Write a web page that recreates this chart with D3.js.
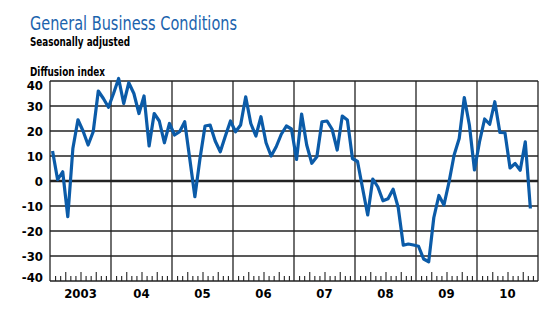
<!DOCTYPE html>
<html>
<head>
<meta charset="utf-8">
<script src="https://cdn.jsdelivr.net/npm/d3@7"></script>
<style>
  body { margin: 0; background: #fff; }
  text { font-family: "Liberation Sans Narrow", "Arial Narrow", "DejaVu Sans Condensed", sans-serif; }
</style>
</head>
<body>
<div id="chart"></div>
<script>
// monthly values, Jan 2003 .. Nov 2010
const values2003 = [12, 0.5, 3.7, -14.3, 13, 24.5, 20, 14.4, 19.7, 36, 33, 29.5];
const values2004 = [35, 41, 31, 39.3, 35, 27, 34, 14, 27, 24, 15.3, 23];
const values2005 = [18.4, 19.7, 23.7, 8.8, -6.3, 8.9, 22, 22.4, 16, 11.7, 18, 24];
const values2006 = [19.7, 22.4, 33.7, 23, 18, 25.7, 15.3, 10, 13.7, 18.7, 22, 20.8];
const values2007 = [8.6, 26.8, 14.4, 7.1, 9.7, 23.7, 24, 20.7, 12.4, 26, 24.4, 9];
const values2008 = [7.8, -3, -13.6, 0.8, -2.4, -7.9, -7.1, -3.3, -10.6, -25.7, -25.2, -25.6];
const values2009 = [-26.1, -31.2, -32.3, -14.7, -5.8, -9.6, -0.4, 10.4, 17, 33.4, 22.4, 4.4];
const values2010 = [15.7, 24.8, 22.7, 31.7, 19.4, 19.3, 5.2, 7, 4.3, 15.7, -11];
const yearLabels = ['2003', '04', '05', '06', '07', '08', '09', '10'];
const yTicks = [-40, -30, -20, -10, 0, 10, 20, 30, 40];

const data = [].concat(values2003, values2004, values2005, values2006,
  values2007, values2008, values2009, values2010)
  .map((v, i) => ({m: i + 0.5, v}));

const width = 558;
const height = 321;
const margin = {top: 81, right: 20, bottom: 40, left: 50};
const nMonths = yearLabels.length * 12;

const svg = d3.select('#chart').append('svg')
  .attr('width', width)
  .attr('height', height);

const x = d3.scaleLinear()
  .domain([0, nMonths])
  .range([margin.left, width - margin.right]);
const y = d3.scaleLinear()
  .domain([-40, 40])
  .range([height - margin.bottom, margin.top]);

// titles
svg.append('text')
  .attr('x', 30).attr('y', 30)
  .attr('fill', '#1b63ad')
  .attr('font-size', 19)
  .attr('textLength', 207)
  .attr('lengthAdjust', 'spacingAndGlyphs')
  .text('General Business Conditions');
svg.append('text')
  .attr('x', 30).attr('y', 46)
  .attr('font-size', 12.5)
  .attr('font-weight', 'bold')
  .attr('textLength', 100)
  .attr('lengthAdjust', 'spacingAndGlyphs')
  .text('Seasonally adjusted');
svg.append('text')
  .attr('x', 30).attr('y', 76)
  .attr('font-size', 12.5)
  .attr('font-weight', 'bold')
  .attr('textLength', 75)
  .attr('lengthAdjust', 'spacingAndGlyphs')
  .text('Diffusion index');

// grid
const grid = svg.append('g').attr('stroke', '#222');
grid.selectAll('line.h')
  .data(yTicks)
  .join('line')
  .attr('class', 'h')
  .attr('x1', x(0)).attr('x2', x(nMonths))
  .attr('y1', d => y(d)).attr('y2', d => y(d))
  .attr('stroke-width', d => d === 0 ? 2.5 : 1.3);
grid.selectAll('line.v')
  .data(d3.range(0, nMonths + 1, 12))
  .join('line')
  .attr('class', 'v')
  .attr('x1', d => x(d)).attr('x2', d => x(d))
  .attr('y1', y(40)).attr('y2', y(-40))
  .attr('stroke-width', 1.3);

// month ticks
const monthTicks = d3.range(0, nMonths).filter(d => d % 12 !== 0);
svg.append('g')
  .attr('transform', `translate(0,${y(-40)})`)
  .call(d3.axisTop(x).tickValues(monthTicks).tickSize(5).tickFormat(''))
  .call(g => g.select('.domain').remove())
  .call(g => g.selectAll('.tick line')
    .attr('stroke', '#222')
    .attr('stroke-width', 1.1)
    .attr('y2', d => d % 3 === 0 ? -9 : -5));

// y labels
svg.append('g')
  .selectAll('text')
  .data(yTicks)
  .join('text')
  .attr('x', 43)
  .attr('y', d => y(d) + (d === 40 ? 4 : d === -40 ? -4 : 0))
  .attr('dy', '0.35em')
  .attr('text-anchor', 'end')
  .attr('font-size', 13)
  .attr('font-weight', 'bold')
  .text(d => d);

// x labels
svg.append('g')
  .selectAll('text')
  .data(yearLabels)
  .join('text')
  .attr('x', (d, i) => x(i * 12 + 6))
  .attr('y', 298)
  .attr('text-anchor', 'middle')
  .attr('font-size', 13)
  .attr('font-weight', 'bold')
  .text(d => d);

// series
const line = d3.line()
  .x(d => x(d.m))
  .y(d => y(d.v));
svg.append('path')
  .datum(data)
  .attr('fill', 'none')
  .attr('stroke', '#0b5ba8')
  .attr('stroke-width', 3.2)
  .attr('stroke-linejoin', 'round')
  .attr('d', line);
</script>
</body>
</html>
